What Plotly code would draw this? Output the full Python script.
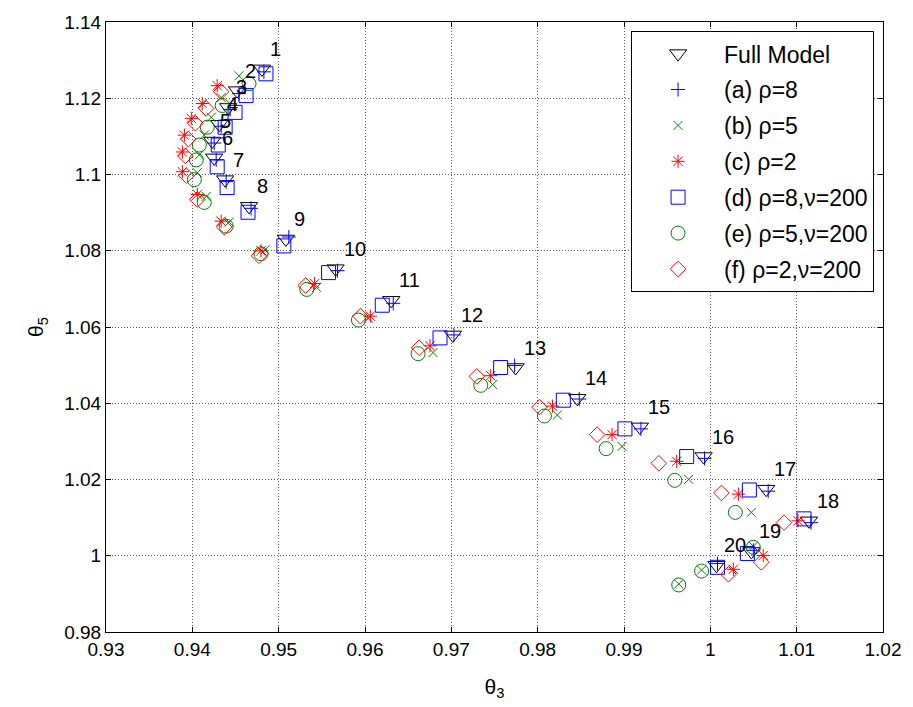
import plotly.graph_objects as go

# ---- data ----
point_labels = [str(i) for i in range(1, 21)]

full_x = [0.94806, 0.94518, 0.94415, 0.94311, 0.94230, 0.94253, 0.94380, 0.94657, 0.95083, 0.95659,
          0.96304, 0.97018, 0.97744, 0.98459, 0.99184, 0.99922, 1.00647, 1.01143, 1.00475, 1.00071]
full_y = [1.12770, 1.12200, 1.11759, 1.11318, 1.10877, 1.10436, 1.09865, 1.09165, 1.08309, 1.07530,
          1.06700, 1.05792, 1.04937, 1.04132, 1.03380, 1.02602, 1.01746, 1.00916, 1.00112, 0.99749]

a_x = [0.94829, 0.94541, 0.94438, 0.94334, 0.94253, 0.94276, 0.94392, 0.94680, 0.95118, 0.95682,
       0.96327, 0.97030, 0.97733, 0.98482, 0.99196, 0.99933, 1.00670, 1.01166, 1.00498, 1.00083]
a_y = [1.12693, 1.12122, 1.11707, 1.11266, 1.10825, 1.10384, 1.09813, 1.09113, 1.08361, 1.07478,
       1.06622, 1.05792, 1.04989, 1.04111, 1.03328, 1.02555, 1.01694, 1.00868, 1.00142, 0.99795]

b_x = [0.94541, 0.94334, 0.94219, 0.94138, 0.94081, 0.94058, 0.94161, 0.94426, 0.94841, 0.95440,
       0.96039, 0.96788, 0.97479, 0.98228, 0.98977, 0.99749, 1.00475, 1.00498, 0.99899, 0.99634]
b_y = [1.12589, 1.12018, 1.11499, 1.11032, 1.10514, 1.10047, 1.09424, 1.08750, 1.08023, 1.07038,
       1.06233, 1.05330, 1.04490, 1.03691, 1.02866, 1.02005, 1.01138, 1.00246, 0.99623, 0.99260]

c_x = [0.94288, 0.94115, 0.93988, 0.93908, 0.93885, 0.93885, 0.94058, 0.94334, 0.94795, 0.95417,
       0.96062, 0.96753, 0.97456, 0.98171, 0.98862, 0.99611, 1.00325, 1.01016, 1.00613, 1.00267]
c_y = [1.12329, 1.11863, 1.11473, 1.11032, 1.10591, 1.10073, 1.09476, 1.08776, 1.07997, 1.07141,
       1.06285, 1.05507, 1.04723, 1.03925, 1.03177, 1.02477, 1.01616, 1.00916, 1.00008, 0.99645]

d_x = [0.94853, 0.94622, 0.94495, 0.94380, 0.94300, 0.94288, 0.94403, 0.94645, 0.95060, 0.95578,
       0.96200, 0.96869, 0.97571, 0.98297, 0.99011, 0.99726, 1.00452, 1.01085, 1.00429, 1.00083]
d_y = [1.12641, 1.12070, 1.11629, 1.11240, 1.10773, 1.10202, 1.09658, 1.09009, 1.08127, 1.07427,
       1.06571, 1.05714, 1.04937, 1.04080, 1.03328, 1.02602, 1.01725, 1.00968, 1.00060, 0.99697]

e_x = [0.94657, 0.94346, 0.94173, 0.94081, 0.94046, 0.94023, 0.94138, 0.94392, 0.94795, 0.95325,
       0.95924, 0.96615, 0.97341, 0.98078, 0.98793, 0.99588, 1.00290, 1.00498, 0.99899, 0.99634]
e_y = [1.12381, 1.11811, 1.11240, 1.10773, 1.10384, 1.09865, 1.09268, 1.08646, 1.07920, 1.06986,
       1.06182, 1.05300, 1.04470, 1.03665, 1.02809, 1.01978, 1.01138, 1.00220, 0.99598, 0.99234]

f_x = [0.94334, 0.94161, 0.94035, 0.93954, 0.93919, 0.93931, 0.94058, 0.94369, 0.94772, 0.95313,
       0.95947, 0.96627, 0.97295, 0.98021, 0.98689, 0.99403, 1.00129, 1.00853, 1.00590, 1.00210]
f_y = [1.12174, 1.11733, 1.11344, 1.10929, 1.10488, 1.09969, 1.09346, 1.08620, 1.07868, 1.07089,
       1.06285, 1.05455, 1.04703, 1.03899, 1.03177, 1.02425, 1.01647, 1.00868, 0.99828, 0.99515]

series_names = ["Full Model", "(a) ρ=8", "(b) ρ=5", "(c) ρ=2",
                "(d) ρ=8,ν=200", "(e) ρ=5,ν=200", "(f) ρ=2,ν=200"]

x_ticks = [0.93, 0.94, 0.95, 0.96, 0.97, 0.98, 0.99, 1.00, 1.01, 1.02]
x_tick_text = ["0.93", "0.94", "0.95", "0.96", "0.97", "0.98", "0.99", "1", "1.01", "1.02"]
y_ticks = [0.98, 1.00, 1.02, 1.04, 1.06, 1.08, 1.10, 1.12, 1.14]
y_tick_text = ["0.98", "1", "1.02", "1.04", "1.06", "1.08", "1.1", "1.12", "1.14"]

# ---- styles ----
FONT = "Liberation Sans, Arial, sans-serif"
styles = [
    dict(symbol="triangle-down-open", color="black", size=15),
    dict(symbol="cross-thin-open", color="#0000FF", size=10),
    dict(symbol="x-thin-open", color="#008000", size=9),
    dict(symbol="asterisk-open", color="#FF0000", size=11),
    dict(symbol="square-open", color="#0000FF", size=14),
    dict(symbol="circle-open", color="#008000", size=14),
    dict(symbol="diamond-open", color="#FF0000", size=12),
]
data = [(full_x, full_y), (a_x, a_y), (b_x, b_y), (c_x, c_y),
        (d_x, d_y), (e_x, e_y), (f_x, f_y)]

fig = go.Figure()
for i, ((xs, ys), name, st) in enumerate(zip(data, series_names, styles)):
    fig.add_trace(go.Scatter(
        x=xs, y=ys, mode="markers", name=name,
        legendgroup=f"g{i}",
        marker=dict(symbol=st["symbol"], size=st["size"], color=st["color"],
                    line=dict(width=1, color=st["color"])),
    ))

for xv, yv, lab in zip(full_x, full_y, point_labels):
    fig.add_annotation(x=xv, y=yv, text=lab, showarrow=False,
                       xanchor="left", yanchor="middle", xshift=6, yshift=20,
                       font=dict(family=FONT, size=20, color="black"))

axis_common = dict(
    showline=True, linecolor="black", linewidth=1, mirror="ticks",
    ticks="inside", ticklen=5, tickcolor="black", tickwidth=1,
    showgrid=True, gridcolor="#606060", griddash="1px,2px", gridwidth=1,
    zeroline=False, tickfont=dict(family=FONT, size=19, color="black"),
)

fig.update_xaxes(range=[0.93, 1.02], tickvals=x_ticks, ticktext=x_tick_text,
                 title=dict(text="θ<sub>3</sub>", font=dict(family=FONT, size=21, color="black"),
                            standoff=20),
                 **axis_common)
fig.update_yaxes(range=[0.98, 1.14], tickvals=y_ticks, ticktext=y_tick_text,
                 title=dict(text="θ<sub>5</sub>", font=dict(family=FONT, size=21, color="black"),
                            standoff=14),
                 **axis_common)

fig.update_layout(
    width=913, height=707,
    margin=dict(l=106, r=26, t=16, b=75),
    paper_bgcolor="white", plot_bgcolor="white",
    font=dict(family=FONT, color="black"),
    legend=dict(x=0.9885, y=0.985, xanchor="right", yanchor="top",
                bgcolor="white", bordercolor="black", borderwidth=1,
                font=dict(family=FONT, size=23, color="black"),
                tracegroupgap=3, itemwidth=82, traceorder="grouped"),
)

fig.write_html("out.html")
